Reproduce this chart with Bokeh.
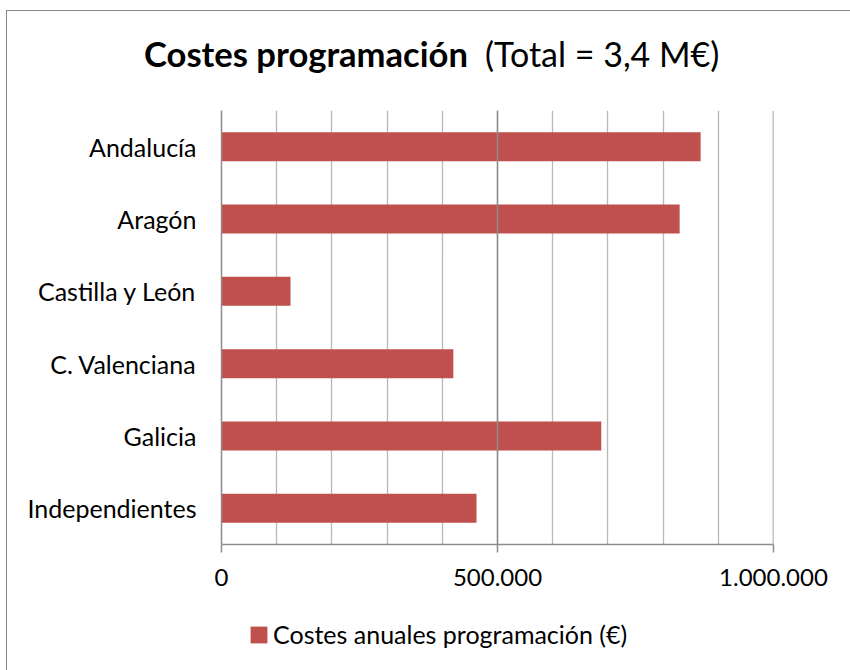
from bokeh.plotting import figure
from bokeh.layouts import column
from bokeh.models import (FactorRange, Range1d, FixedTicker, SingleIntervalTicker, Span,
                          Legend, LegendItem, CustomJSTickFormatter, ColumnDataSource, Div)
from bokeh.embed import file_html
from bokeh.resources import INLINE

regions = ["Andalucía", "Aragón", "Castilla y León", "C. Valenciana", "Galicia", "Independientes"]
costs = [868000, 830000, 125000, 420000, 688000, 462000]
x_ticks = [0, 500000, 1000000]
title_bold = "Costes programación"
title_rest = "(Total = 3,4 M€)"
series_name = "Costes anuales programación (€)"

FONT = "Lato"
BAR = "#C0504D"
OX, OY = 7, 11            # canvas origin on the page (margin + border)
W = 843
TH = 90                   # title strip height
LH = 70                   # legend strip height
MH = 670 - OY - TH - LH   # main figure height
FL, FR = 221 - OX, 773 - OX
FT, FB = 110 - OY - TH, 544 - OY - TH

# ---- title ----
title = Div(
    text=(f'<div style="font-family:{FONT}; font-size:34px; line-height:1; color:black; '
          f'white-space:nowrap; padding-left:{144 - OX}px; padding-top:26px;">'
          f'<span style="font-weight:bold; font-size:34.6px">{title_bold}</span>'
          f'<span style="display:inline-block; width:17px"></span>{title_rest}</div>'),
    width=W, height=TH, margin=0)

# ---- main chart ----
p = figure(width=W, height=MH, output_backend="svg", toolbar_location=None,
           y_range=FactorRange(*reversed(regions), range_padding=0),
           x_range=Range1d(0, 1000000),
           min_border_left=FL, min_border_right=W - FR, min_border_top=FT,
           min_border_bottom=MH - FB, margin=0)
p.outline_line_color = None
p.background_fill_color = "white"
p.border_fill_color = "white"

src = ColumnDataSource(dict(region=regions, cost=costs))
r = p.hbar(y="region", right="cost", left=0, height=0.4, source=src,
           fill_color=BAR, line_color=None)

p.ygrid.grid_line_color = None
p.xgrid.ticker = SingleIntervalTicker(interval=100000)
p.xgrid.grid_line_color = "#b8b8b8"
p.xgrid.grid_line_width = 1.3
for v in x_ticks[1:]:
    p.add_layout(Span(location=v, dimension="height", line_color="#8c8c8c", line_width=1.5))

p.xaxis.ticker = FixedTicker(ticks=x_ticks)
p.xaxis.formatter = CustomJSTickFormatter(code="""
return Math.round(tick).toString().replace(/\\B(?=(\\d{3})+(?!\\d))/g, ".");
""")
p.xaxis.axis_line_color = "#8c8c8c"
p.xaxis.axis_line_width = 1.5
p.xaxis.major_tick_line_color = "#8c8c8c"
p.xaxis.major_tick_line_width = 1.5
p.xaxis.major_tick_out = 8
p.xaxis.major_tick_in = 0
p.xaxis.minor_tick_line_color = None
p.xaxis.major_label_text_font = FONT
p.xaxis.major_label_text_font_size = "24px"
p.xaxis.major_label_text_color = "black"
p.xaxis.major_label_standoff = 16

p.yaxis.axis_line_color = "#8c8c8c"
p.yaxis.axis_line_width = 1.5
p.yaxis.major_tick_line_color = None
p.yaxis.major_tick_out = 0
p.yaxis.major_tick_in = 0
p.yaxis.minor_tick_line_color = None
p.yaxis.major_label_text_font = FONT
p.yaxis.major_label_text_font_size = "25px"
p.yaxis.major_label_text_color = "black"
p.yaxis.major_label_standoff = 25

# ---- legend strip ----
q = figure(width=W, height=LH, output_backend="svg", toolbar_location=None,
           x_range=Range1d(0, 1000000), y_range=FactorRange(*reversed(regions)),
           x_axis_location=None, y_axis_location=None,
           min_border_left=FL, min_border_right=W - FR, min_border_top=0, min_border_bottom=0,
           outline_line_color=None, margin=0)
q.grid.visible = False
q.background_fill_color = "white"
q.border_fill_color = "white"
lr = q.hbar(y="region", right="cost", left=0, height=0.4, source=src,
            fill_color=BAR, line_color=None, visible=False)
legend = Legend(items=[LegendItem(label=series_name, renderers=[lr])],
                location=(27, 21), orientation="horizontal",
                border_line_color=None, background_fill_alpha=0,
                inactive_fill_alpha=0,
                padding=0, margin=0, spacing=0,
                glyph_width=21, glyph_height=21, label_standoff=4,
                label_text_font=FONT, label_text_font_size="25px", label_text_color="black")
q.add_layout(legend, "center")

lay = column(title, p, q, spacing=0)
lay.styles = {"margin-left": "6px", "margin-top": "10px",
              "border-left": "1px solid #888888", "border-top": "1px solid #888888"}

open("out.html", "w").write(file_html(lay, INLINE))
